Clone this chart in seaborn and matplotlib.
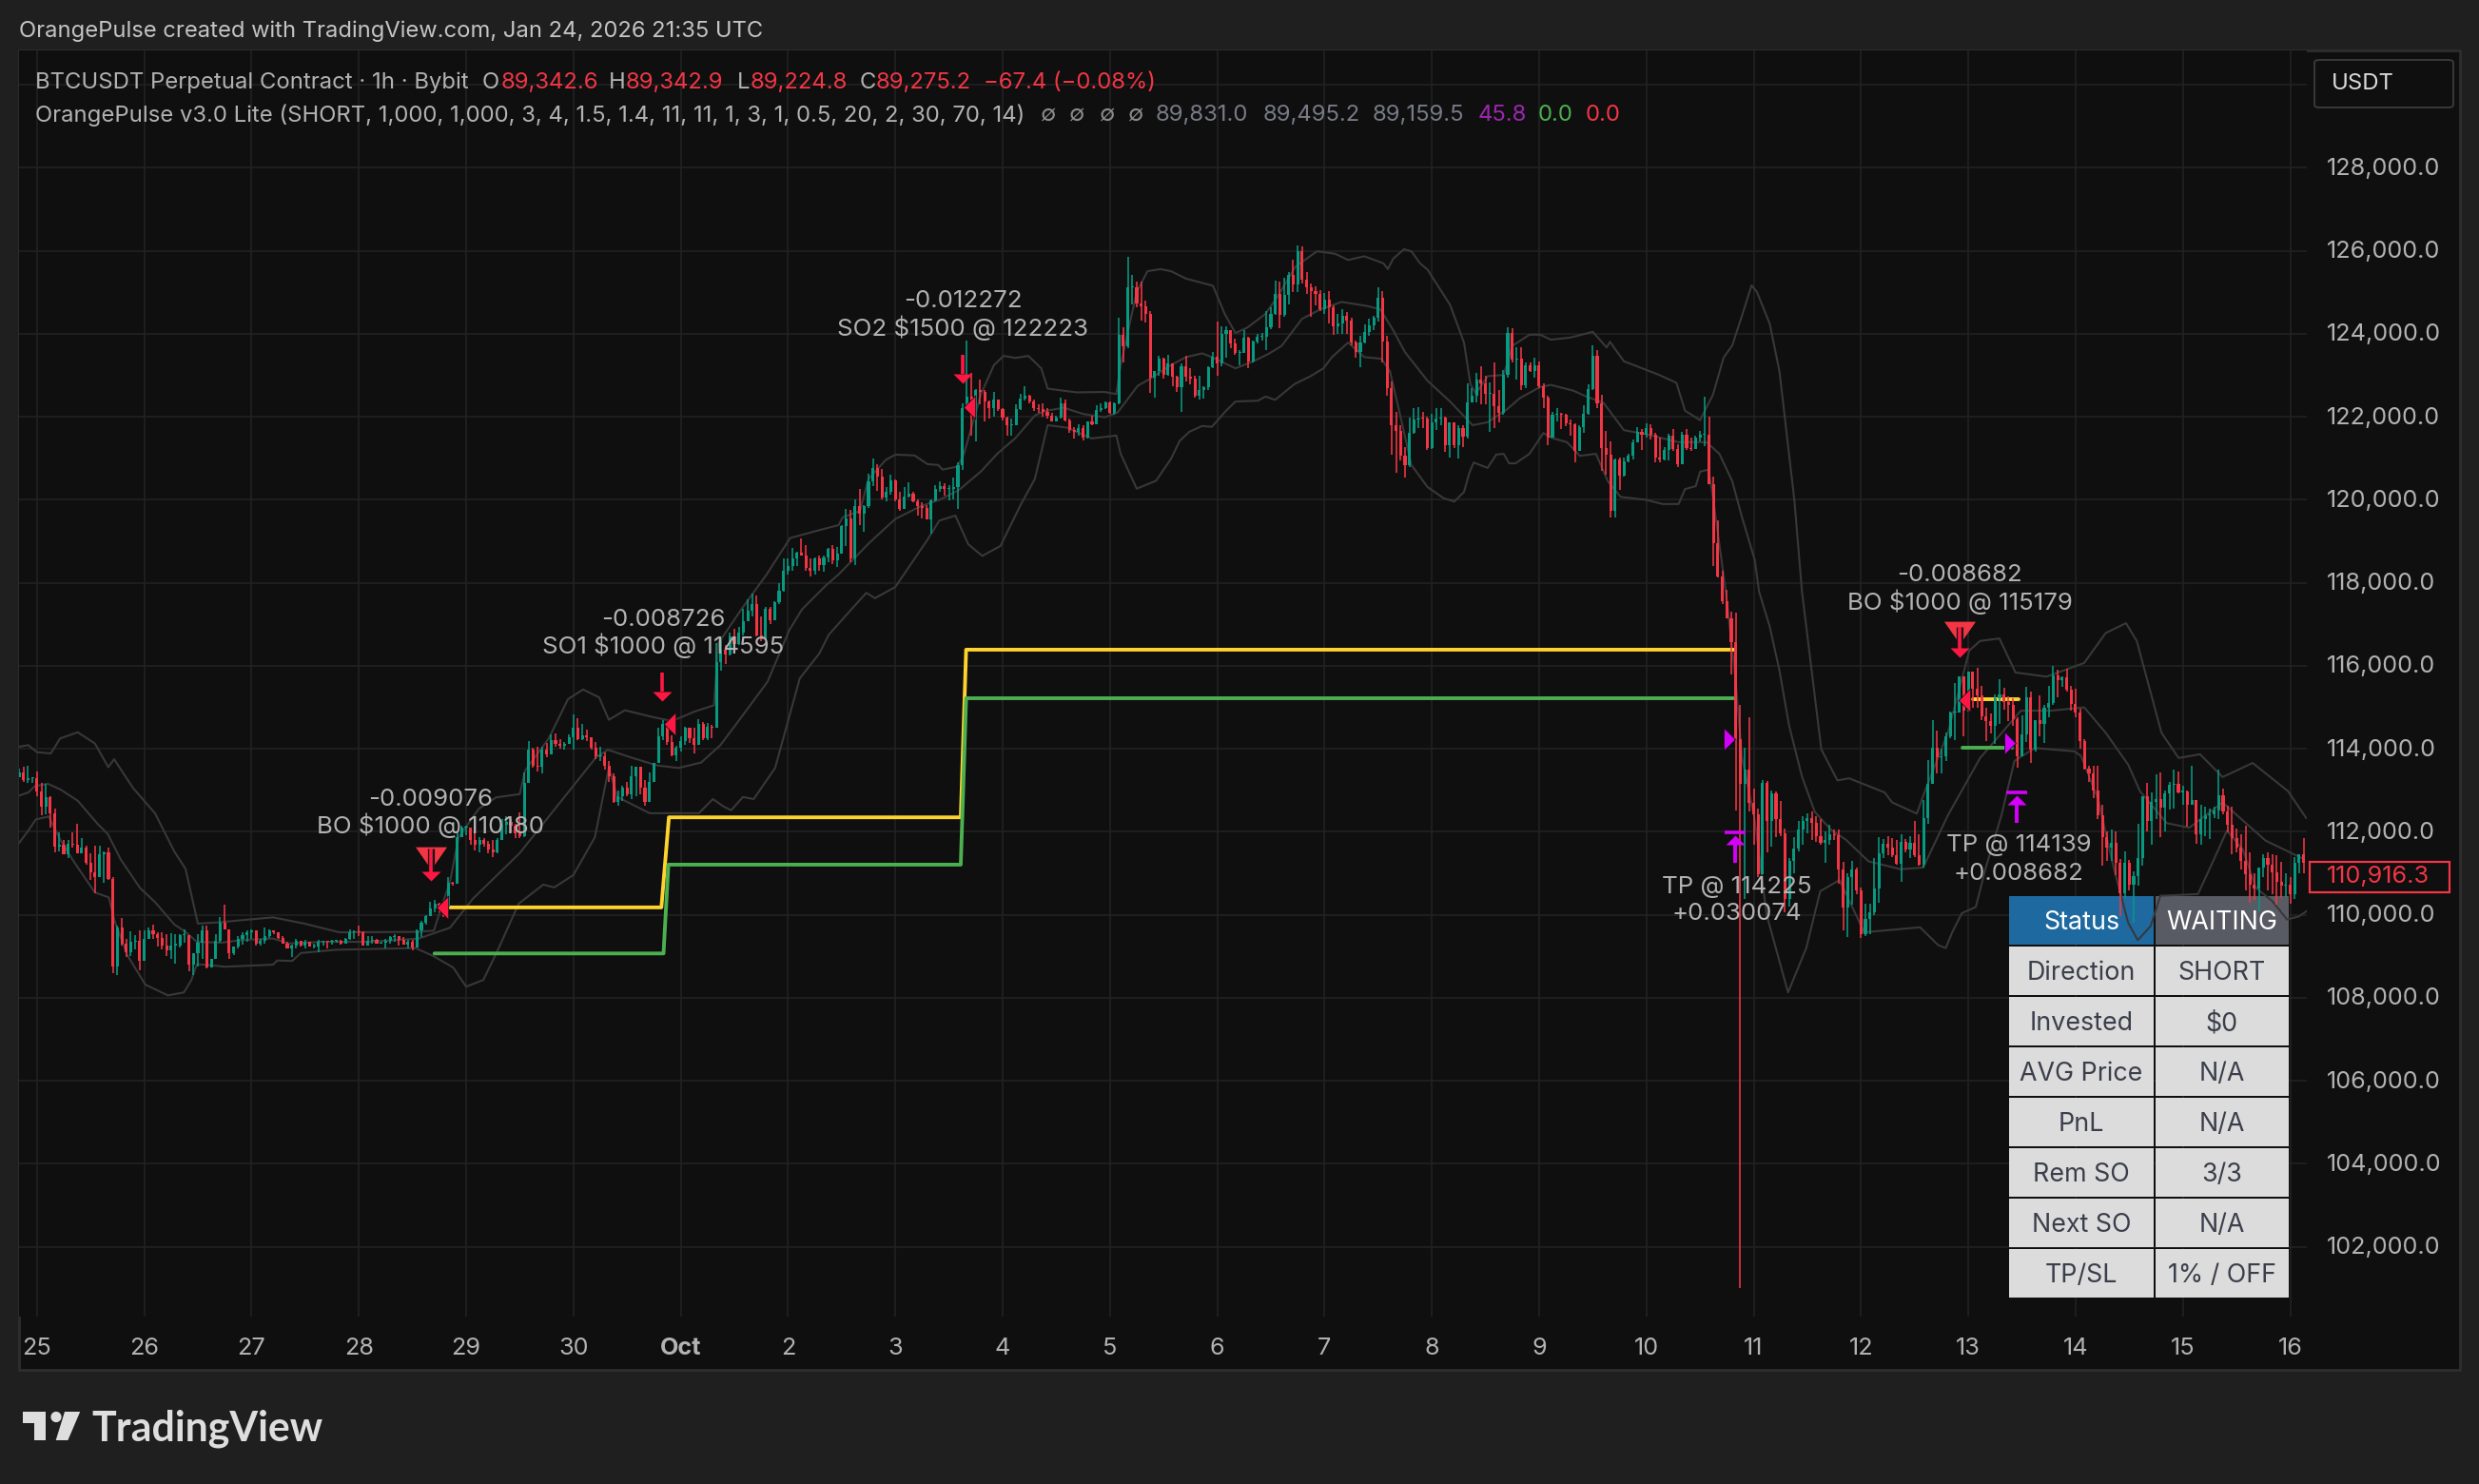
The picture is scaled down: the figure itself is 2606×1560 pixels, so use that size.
import numpy as np
import pandas as pd
import seaborn as sns
import matplotlib
matplotlib.use("Agg")
import matplotlib.pyplot as plt
from matplotlib.patches import Rectangle, Polygon, FancyBboxPatch
from matplotlib.path import Path
from matplotlib.transforms import ScaledTranslation

# hourly candles, first four hours belong to Sep 24, then one list per day
close_days = [
    [113440,113250,113290,113290],
    [112980,112600,112830,112450,111640,111680,111450,111720,111680,111490,111610,111260,111030,110900,111450,111510,110860,108750,109690,109300,109100,109350,109370,108890],
    [109430,109620,109530,109450,109270,109140,109270,109270,109520,109520,108810,109080,109330,109620,108740,108950,109370,109820,109660,109070,109240,109430,109520,109580],
    [109620,109310,109370,109490,109620,109580,109440,109310,109200,109270,109370,109250,109350,109240,109240,109350,109370,109350,109370,109370,109310,109430,109580,109590],
    [109580,109270,109370,109400,109310,109320,109370,109460,109480,109390,109290,109350,109210,109620,109810,109960,110150,110270,110200,110190,110770,110740,111870,112100],
    [112100,111800,111680,111800,111720,111570,111500,111800,112180,112250,112150,111970,111900,113170,113980,113600,113560,113980,113860,114210,114130,114070,114130,114280],
    [114510,114240,114320,114270,114020,113820,113830,113600,113330,112720,112870,113060,112910,113330,113560,113060,112730,113210,113650,114300,114590,114170,113840,114020],
    [114180,114510,114250,114090,114600,114250,114540,114510,116090,116400,116280,116700,116530,116800,117070,117330,117500,116730,116650,117380,117110,117530,117800,118300],
    [118400,118580,118720,118660,118350,118280,118580,118420,118620,118810,118550,118700,119370,119560,118580,119860,119660,119860,120440,120770,120570,120050,120190,120480],
    [120020,119770,120080,120150,119960,119850,119810,119540,119980,120270,120340,120270,120270,120300,120840,122220,122480,122000,122640,122600,122370,122220,122410,122180],
    [121990,121800,121800,122180,122450,122510,122370,122220,122180,122120,122030,121890,121980,122320,121910,121680,121630,121740,121490,121890,121820,122160,122220,122360],
    [122090,122330,123980,123700,125130,125130,124740,124660,124480,122950,123100,123400,123020,123290,122970,122720,123210,122970,122930,122520,122650,122720,123200,123440],
    [123290,123990,124090,123760,123540,123540,123900,123330,123810,123920,123940,124150,124490,124970,124460,124930,125410,125200,125990,125300,125120,125030,124960,124590],
    [124820,124630,124180,124240,124440,124320,123800,123570,123790,124040,124200,124380,124860,123810,122690,121800,121660,121070,120830,121610,121930,121960,121950,121250],
    [121870,121950,121990,121320,121860,121320,121740,121530,122350,122510,122910,122810,122560,122560,122260,122100,123010,124020,123380,123400,122750,123250,123110,123240],
    [122740,122460,121510,122040,122080,122040,121850,121820,121190,121760,122080,122680,123480,122320,121250,121080,119730,120970,120590,120920,121060,121390,121630,121580],
    [121730,121580,121020,120970,121200,121540,121220,120870,121560,121250,121220,121490,121560,121580,120380,118950,118150,117550,117150,116570,114230,113160,113490,112690],
    [112430,110990,113170,112260,112920,112310,111960,110390,111290,111590,112050,112270,112330,112210,111900,111730,111810,111950,111910,111100,110180,110910,111100,110580],
    [109530,109910,110060,110630,111480,111720,111620,111430,111240,111760,111570,111740,111430,111200,112330,113160,114030,113790,113830,114300,114880,114880,115740,114930],
    [115870,115450,115280,114780,114670,114550,115220,115320,115130,115050,114720,113830,114350,115240,113980,114690,114600,115000,115100,115760,115650,115720,115430,115090],
    [114880,114190,113530,113420,113000,112410,111870,111630,111740,111260,110510,111250,110730,110940,111360,112870,112270,112730,112790,112580,112930,113140,113150,112960],
    [112980,112660,112770,111950,112300,112390,112430,112510,112880,112490,112180,111840,111630,111300,110980,110730,110630,111130,111380,111200,111030,110790,110710,110730],
    [110500,111260,111450,111260,110916],
]
high_days = [
    [113520,113560,113590,113290],
    [113460,113170,113160,112850,112560,111990,111800,111810,111990,112200,111840,111660,111490,111660,111660,111530,111610,110900,109730,109920,109430,109600,109520,109620],
    [109620,109690,109760,109580,109580,109540,109560,109540,109540,109660,109500,109080,109540,109730,109730,108950,109540,109950,110240,109640,109240,109490,109580,109620],
    [109660,109600,109430,109690,109660,109620,109580,109500,109350,109290,109430,109380,109400,109350,109310,109390,109370,109370,109390,109390,109390,109440,109640,109620],
    [109730,109600,109490,109490,109410,109350,109430,109500,109540,109460,109460,109390,109390,109660,109850,110000,110310,110350,110300,110250,110900,110790,111990,112140],
    [112140,112040,112050,111870,111860,111780,111800,111850,112300,112380,112300,112200,112480,113440,114185,114030,114050,114050,114150,114360,114370,114230,114170,114350],
    [114830,114740,114600,114470,114290,114170,114040,113910,113700,113420,113000,113100,113210,113600,113570,113570,113250,113440,113660,114500,114700,114500,114320,114070],
    [114300,114530,114500,114500,114720,114650,114620,114570,116550,116650,116500,116800,116900,116950,117380,117610,117750,117700,117190,117420,117430,117560,118000,118600],
    [118600,118850,118750,119060,118900,118600,118620,118650,118650,118850,118900,118870,119400,119790,119750,120000,120270,119870,120640,121000,120860,120750,120300,120600],
    [120490,120200,120300,120420,120190,120000,119950,119870,120000,120350,120450,120410,120350,120530,120900,122330,123850,123070,122670,122900,122640,122400,122600,122420],
    [122200,122000,121960,122300,122560,122730,122530,122410,122300,122330,122210,122100,122030,122470,122410,121960,121760,121820,121790,121900,122030,122280,122330,122370],
    [122380,122350,124390,124150,125860,125420,125270,125250,124800,124550,123100,123480,123420,123500,123290,123000,123280,123480,123170,123000,123000,122740,123220,123570],
    [124300,124180,124180,124100,123880,123620,124080,123930,123850,124000,124030,124540,124650,125280,125270,125350,125480,125780,126140,126100,125500,125210,125140,125060],
    [124990,125040,124680,124480,124590,124520,124400,123850,123960,124220,124360,124440,125120,125020,123950,122850,122120,121800,121280,121990,122210,122240,122130,122000],
    [122070,122220,122210,122000,121870,121870,121800,121800,122800,122690,123050,123220,122990,122820,123300,122650,123130,124150,124140,123680,123670,123320,123300,123420],
    [123330,122810,122500,122130,122220,122100,122070,121930,121850,121800,122280,122780,123730,123620,122540,121650,121410,121000,121020,121030,121120,121450,121760,121700],
    [121840,121830,121620,121510,121280,121600,121700,121350,121630,121710,121500,121540,121650,122480,122000,120550,119500,118300,117830,117300,117280,115050,114020,114750],
    [113040,112550,113250,113220,113000,112970,112750,112090,111380,111880,112260,112380,112440,112500,112380,112300,112000,112170,112050,112060,111270,111000,111300,111130],
    [110660,110260,110260,111360,111880,111830,111890,111860,111800,111950,111820,111890,112270,111950,112760,113730,114690,114440,114000,114400,114900,115580,115740,115530],
    [115870,115700,115950,115510,114980,114850,115320,115680,115480,115270,115220,114770,114800,115500,115390,114700,115280,115050,115510,115990,115900,115750,115920,115510],
    [115450,114960,114240,113600,113590,113600,112660,112000,112060,112000,111340,111530,111330,111040,112200,112870,113190,112960,113390,113430,113000,113200,113500,113450],
    [113100,113000,113600,112770,112650,112600,112550,112600,113500,113040,112640,112600,112090,111940,112150,111500,111000,111150,111450,111510,111470,111430,111280,111000],
    [110920,111400,111470,111850,111300],
]
low_days = [
    [113310,113210,113170,113170],
    [112850,112390,112430,112100,111510,111530,111450,111380,111610,111490,111480,111210,110840,110520,110900,110780,110840,108600,108550,109270,108990,109000,109160,108660],
    [109410,109430,109430,109240,109160,109000,108930,108830,109210,109330,108640,108550,108750,108930,108700,108740,108930,109330,109660,108940,109040,109180,109290,109360],
    [109430,109270,109270,109310,109440,109540,109430,109300,109180,108980,109200,109240,109180,109230,109180,109100,109260,109200,109290,109330,109290,109310,109390,109410],
    [109500,109260,109260,109310,109300,109300,109180,109310,109350,109270,109290,109180,109140,109210,109460,109770,109960,110070,110070,109950,110080,110700,110770,111870],
    [111910,111700,111550,111500,111650,111490,111400,111490,111900,111950,111980,111850,111850,111870,113170,113550,113450,113420,113800,113860,114050,114000,113980,114140],
    [113980,114220,114200,114190,113980,113750,113700,113500,113200,112700,112620,112750,112870,112800,112850,112900,112620,112750,113210,113650,114200,114100,113820,113710],
    [113930,114100,114140,113900,114250,114200,114200,114250,114510,115880,116050,116250,116400,116500,116730,117130,117200,116700,116600,117100,117000,117150,117480,117780],
    [118200,118300,118400,118650,118280,118150,118210,118300,118270,118490,118450,118380,118700,118890,118500,118420,119400,119220,119800,120340,120210,120000,119970,120120],
    [119970,119730,119770,120050,119950,119630,119550,119530,119190,119960,120200,120100,119980,120000,119780,120730,122200,121550,121420,122300,121880,121960,122000,122150],
    [121920,121540,121540,121790,122170,122400,122320,122150,122100,122000,121960,121880,121880,121950,121900,121620,121470,121550,121430,121480,121800,121820,122120,122190],
    [122080,122050,122300,123320,123650,124700,124650,124330,124280,122580,122460,122990,122920,122990,122740,122590,122130,122860,122780,122470,122410,122430,122650,123180],
    [122990,123220,123430,123660,123500,123240,123530,123180,123320,123780,123850,123620,124120,124450,124140,124420,124700,125000,125000,125210,124960,124410,124680,124550],
    [124470,124250,123980,124000,124000,124000,123730,123430,123190,123770,123960,124100,124300,123310,122500,121090,120650,120940,120530,120800,121600,121730,121720,121200],
    [121230,121680,121800,121160,121020,121250,121000,121280,121480,122350,122350,122300,122300,121630,121720,121860,122040,122950,123300,122900,122640,122700,123080,122940],
    [122700,122210,121310,121540,121880,121700,121780,121540,120910,121190,121620,122060,122650,122200,120700,120600,119580,119580,120250,120570,120900,120980,121380,121200],
    [121500,121450,120900,120900,120940,120950,121170,120800,120860,121200,121180,121380,121420,121300,120370,118410,118130,117500,117140,115790,112520,101000,110390,112500],
    [111700,110900,110990,111500,111650,111880,111900,110060,110200,111000,111540,111700,111970,111800,111750,111700,111250,111700,111800,110750,109630,109460,110240,110500],
    [109440,109500,109530,110000,110300,111380,111440,111400,111200,110800,111500,111380,111400,111180,111140,112200,113440,113400,113400,113700,114250,114200,114880,114300],
    [114900,115000,115000,114700,114180,114380,114120,114600,114950,114680,114560,113540,113870,114170,113670,113940,114300,114150,114750,115060,115250,115500,115380,114930],
    [114770,114000,113500,113210,112820,112300,111190,111300,111300,110950,109960,110400,110600,109810,110700,111190,112000,111680,112300,111880,112020,112540,112560,112930],
    [112650,112130,112680,111720,111700,111900,111820,112320,112300,112430,111980,111460,111500,111100,110600,110300,110350,110080,110900,110600,110500,110250,110400,110430],
    [110270,110380,111000,111000,110700],
]
first_open = 113310

# bollinger-style envelope, read at irregular spots (days since Sep 25)
upper_days = [-.17,-.08,0,.13,.216,.38,.54,.665,.72,.895,1.1,1.28,1.385,1.5,1.695,1.9,2.2,2.49,2.82,3.54,3.7,3.76,3.85,3.93,4.12,4.28,4.5,4.55,4.77,4.95,5.09,5.24,5.33,5.48,5.75,5.92,6.13,6.31,6.35,6.57,6.8,7.02,7.29,7.47,7.51,7.67,7.75,7.91,8,8.18,8.3,8.4,8.44,8.58,8.64,8.8,8.92,9.01,9.12,9.24,9.36,9.42,9.69,9.95,10.06,10.1,10.25,10.35,10.47,10.57,10.71,10.96,11.07,11.17,11.28,11.45,11.57,11.73,11.93,12.1,12.22,12.37,12.55,12.59,12.64,12.74,12.81,12.89,12.96,13.17,13.3,13.36,13.41,13.52,13.67,13.75,13.91,14.01,14.11,14.29,14.5,14.63,14.66,14.79,15.12,15.28,15.36,15.5,15.62,15.72,15.8,15.89,15.98,16.03,16.15,16.24,16.38,16.45,16.63,16.78,16.89,17.22,17.29,17.52,17.6,17.81,18.01,18.11,18.29,18.44,18.73,19.08,19.28,19.47,19.57,19.8,19.96,20.16,20.37,20.65,20.98,21.15]
upper_vals = [114050,114090,113920,113890,114250,114400,114130,113560,113750,113060,112450,111530,111110,109790,109820,109870,109940,109790,109580,109590,109620,110110,110800,111870,112560,112830,112910,113480,114250,115200,115430,115240,114700,114930,114760,114670,114900,115050,116540,117380,118200,119080,119270,119390,119580,119730,120500,120960,121090,121070,120860,120840,120730,120800,121110,122560,123250,123470,123420,123470,123170,122680,122590,122600,122550,123250,125010,125510,125560,125510,125330,125160,124480,124020,124150,124480,124930,125620,125990,125930,125780,125870,125700,125560,125810,126040,125990,125700,125550,124700,123790,122790,122560,122980,123010,123710,123980,123980,123860,123910,124050,123670,123810,123340,123010,122820,122150,121920,122530,123430,123720,124430,125170,125010,124240,123100,119970,117790,113990,113240,113290,112950,112710,112440,113010,114390,116370,116600,116660,115840,115740,116070,116790,117030,116600,114390,113780,113870,113320,113660,112980,112330]
middle_days = [-.17,-.08,-.02,.1,.22,.38,.57,.66,.78,.96,1.1,1.28,1.39,1.49,1.72,1.9,2.2,2.35,2.64,3.09,3.56,3.85,4.06,4.5,4.95,5.21,5.32,5.54,5.78,5.98,6.19,6.37,6.57,6.81,7.01,7.13,7.35,7.47,7.76,8,8.24,8.41,8.59,8.8,8.95,9.12,9.3,9.39,9.57,9.75,9.95,10.07,10.26,10.37,10.57,10.71,10.86,10.95,11.17,11.33,11.48,11.6,11.79,11.96,12.16,12.4,12.52,12.64,12.75,12.96,13.17,13.38,13.52,13.7,13.82,14.01,14.11,14.32,14.44,14.6,14.79,15,15.3,15.56,15.68,15.8,15.89,16.01,16.05,16.15,16.24,16.33,16.45,16.57,16.72,16.86,17.07,17.37,17.58,17.81,18.11,18.49,18.77,19.08,19.28,19.49,19.6,19.85,20.06,20.37,20.77,21.13]
middle_vals = [112870,112950,113100,113160,113020,112750,112180,111950,111340,110650,110310,109770,109580,109350,109330,109390,109430,109310,109350,109350,109430,109690,110380,111490,112950,113790,113980,113790,113600,113540,113670,114090,114780,115620,116850,117360,117930,118200,118970,119540,119850,120000,120230,120690,121110,121490,122030,122140,122220,122070,121990,122100,122750,122910,123250,123440,123530,123440,123170,123330,123520,123710,124360,124590,124770,124670,124590,124090,123560,122870,122370,121800,121870,122180,122450,122720,122770,122630,122490,122340,121680,121580,121390,121390,121110,120450,119590,118550,117790,116940,115890,114560,113330,112480,112050,111810,111290,111100,111140,112400,113780,114920,114920,115000,114390,113620,112980,112210,112100,112710,111790,111340]
lower_days = [-.17,-.08,-.01,.11,.22,.35,.54,.67,.72,.84,1.01,1.22,1.37,1.44,1.49,1.61,1.75,2.2,2.24,2.38,2.46,2.79,3.53,3.7,3.88,4,4.16,4.29,4.49,4.72,4.82,5,5.2,5.33,5.41,5.71,6.17,6.3,6.4,6.47,6.58,6.68,6.88,7.11,7.29,7.38,7.59,7.73,7.81,8,8.3,8.41,8.56,8.68,8.81,8.98,9.17,9.3,9.42,9.6,9.83,10.06,10.1,10.25,10.43,10.57,10.65,10.74,10.86,10.95,11.08,11.17,11.38,11.45,11.54,11.72,11.87,11.99,12.07,12.22,12.37,12.53,12.61,12.7,12.81,12.96,13.11,13.21,13.3,13.35,13.39,13.52,13.6,13.67,13.72,13.78,13.91,14.04,14.12,14.26,14.38,14.53,14.64,14.76,15,15.15,15.3,15.36,15.46,15.5,15.58,15.62,15.68,15.74,15.83,15.89,16.01,16.12,16.32,16.49,16.62,16.8,17.03,17.55,17.72,17.79,17.85,17.94,18.07,18.16,18.31,18.43,18.62,18.99,19.05,19.21,19.35,19.49,19.58,19.7,19.79,20.14,20.29,20.41,20.56,20.68,20.83,20.97,21.08,21.21]
lower_vals = [111720,112030,112300,112370,111800,111260,110540,110420,109890,109040,108320,108060,108130,108430,108810,108790,108750,108800,108900,108890,109080,109160,109200,109000,108730,108270,108430,109120,110270,110730,110660,110960,111870,113540,112840,112450,112450,112790,112610,112520,112840,112790,113540,115700,116290,116750,117360,117760,117630,117900,119040,119500,119620,118930,118650,118890,119890,120500,121800,121740,121480,121550,121110,120270,120460,120990,121420,121640,121780,121760,122140,122370,122390,122490,122410,122790,122980,123170,123440,123790,123440,123400,123100,122100,120840,120310,120040,119960,120190,120650,120900,120770,121090,121110,120880,120880,121110,121610,121490,121390,121060,121110,120450,120070,120000,119900,119900,120260,120330,120680,120730,120070,118930,117790,115700,113800,112290,110010,108130,109200,110570,110840,109580,109700,109270,109200,109580,110040,110190,111110,112410,113710,114020,113940,113830,112790,111190,109810,109390,109730,110460,110500,111340,112030,111570,110650,110340,109890,109960,110190]

# position lines of the strategy
tp_days = [3.80,5.82,5.89,8.61,8.66,15.81]
tp_vals = [110180,110180,112350,112350,116390,116390]
avg_days = [3.705,5.84,5.885,8.61,8.66,15.81]
avg_vals = [109070,109070,111210,111210,115220,115220]
tp2_days = [18.04,18.47]
tp2_vals = [115190,115190]
avg2_days = [17.95,18.41]
avg2_vals = [114030,114030]

# signals
entry_days = [3.78,5.90,8.69,17.96]
entry_vals = [110180,114595,122223,115179]
exit_days = [15.77,18.39]
exit_vals = [114225,114139]
bo_days = [3.67,17.92]
bo_vals = [111380,116800]
arrow_days = [3.67,5.83,8.625,17.92]
arrow_vals = [110930,115260,122920,116320]
arrow_tops = [111600,115840,123495,116950]
arrow_bottoms = [111025,115380,123040,116410]
up_days = [15.83,18.45]
up_bar_vals = [111990,112960]
up_head_vals = [111800,112770]
up_shaft_tops = [111700,112670]
up_shaft_bottoms = [111250,112220]

label_days = [3.67,5.84,8.63,17.92,15.84,18.47]
label_top_vals = [112770,117100,124780,118180,110660,111670]
label_low_vals = [112150,116480,124140,117530,110020,111000]
label_top_txt = ["-0.009076","-0.008726","-0.012272","-0.008682","TP @ 114225","TP @ 114139"]
label_low_txt = ["BO $1000 @ 110180","SO1 $1000 @ 114595","SO2 $1500 @ 122223","BO $1000 @ 115179","+0.030074","+0.008682"]

day_ticks = list(range(0,22))
day_labels = ["25","26","27","28","29","30","Oct","2","3","4","5","6","7","8","9","10","11","12","13","14","15","16"]
price_ticks = list(range(102000,130001,2000))

table_left = ["Status","Direction","Invested","AVG Price","PnL","Rem SO","Next SO","TP/SL"]
table_right = ["WAITING","SHORT","$0","N/A","N/A","3/3","N/A","1% / OFF"]

W, H = 2606, 1560
BG = "#1F1F1F"
PANE = "#0F0F0F"
GRID = "#222222"
TXT = "#B2B2B2"
UP = "#089981"
DOWN = "#F23645"
MARK = "#FF1744"
MAGENTA = "#D500F9"
BAND = "#383838"

sns.set_theme(style="darkgrid", rc={
    "axes.facecolor": PANE,
    "figure.facecolor": BG,
    "grid.color": GRID,
    "grid.linewidth": 1.2,
    "axes.edgecolor": PANE,
})
plt.rcParams["font.family"] = ["Inter", "DejaVu Sans"]


def fx(x):
    return x / W


def fy(y):
    return 1 - y / H


def ptxt(x, y, s, color=TXT, size=17.2, ha="left", **kw):
    fig.text(fx(x), fy(y), s, color=color, fontsize=size, ha=ha, va="center", **kw)


def frect(ax_or_fig, x0, y0, x1, y1, **kw):
    r = Rectangle((fx(x0), fy(y1)), fx(x1 - x0), (y1 - y0) / H, transform=fig.transFigure, **kw)
    if ax_or_fig is fig:
        fig.add_artist(r)
    else:
        r.set_clip_on(False)
        ax_or_fig.add_patch(r)
    return r


def tri(points):
    return Path(points + [points[0]], closed=True)


def msize(px):
    return (px * 0.72) ** 2


fig = plt.figure(figsize=(W / 100, H / 100), dpi=100)
frect(fig, 20, 53, 2586, 1440, facecolor=PANE, edgecolor="#2E2E2E", linewidth=2, zorder=-1)

ax = fig.add_axes([fx(20), fy(1384), fx(2405), (1384 - 53) / H])
ax.set_xlim(-0.1667, 21.155)
ax.set_ylim(100320, 130830)
ax.grid(True)
ax.set_axisbelow(True)

# candles
closes = np.concatenate(close_days)
highs = np.concatenate(high_days)
lows = np.concatenate(low_days)
assert len(closes) == len(highs) == len(lows)
opens = np.r_[first_open, closes[:-1]]
hours = (np.arange(len(closes)) - 4) / 24
candles = pd.DataFrame({"day": hours, "o": opens, "c": closes, "h": highs, "l": lows})
candles["h"] = candles[["o", "c", "h"]].max(axis=1)
candles["l"] = candles[["o", "c", "l"]].min(axis=1)
candles["rising"] = candles.c >= candles.o
colors = np.where(candles.rising, UP, DOWN)
body_h = np.maximum((candles.c - candles.o).abs(), 25)
ax.vlines(candles.day, candles.l, candles.h, colors=colors, linewidth=1.15, zorder=3)
ax.bar(candles.day, body_h, bottom=candles[["o", "c"]].min(axis=1), width=0.0275,
       color=colors, linewidth=0, zorder=3.1)

# envelope
for xs, ys in [(upper_days, upper_vals), (middle_days, middle_vals), (lower_days, lower_vals)]:
    sns.lineplot(x=xs, y=ys, ax=ax, color=BAND, linewidth=1.5, sort=False, estimator=None, zorder=2)

# strategy lines
for xs, ys, col in [(tp_days, tp_vals, "#FFD32E"), (tp2_days, tp2_vals, "#FFD32E"),
                    (avg_days, avg_vals, "#4CAF50"), (avg2_days, avg2_vals, "#4CAF50")]:
    sns.lineplot(x=xs, y=ys, ax=ax, color=col, linewidth=2.8, sort=False, estimator=None, zorder=2.5)

# markers
sns.scatterplot(x=bo_days, y=bo_vals, ax=ax, color="#F23645", s=msize(33), linewidth=0, zorder=4,
                marker=tri([(-1, .72), (1, .72), (0, -.72)]))
ax.vlines(bo_days, [a + 60 for a in arrow_bottoms[0:1] + arrow_bottoms[3:]],
          [a for a in arrow_tops[0:1] + arrow_tops[3:]], colors="#151515", linewidth=5.2, zorder=4.1)
ax.vlines(arrow_days, arrow_bottoms, arrow_tops, colors=MARK, linewidth=2.6, zorder=4.2)
sns.scatterplot(x=arrow_days, y=arrow_vals, ax=ax, color=MARK, s=msize(20), linewidth=0, zorder=4.3,
                marker=tri([(-1, .5), (1, .5), (0, -.5)]))
sns.scatterplot(x=entry_days, y=entry_vals, ax=ax, color=MARK, s=msize(25), linewidth=0.6,
                edgecolor="#101010", zorder=4.4, marker=tri([(.5, 1), (-.5, 0), (.5, -1)]))
sns.scatterplot(x=exit_days, y=exit_vals, ax=ax, color=MAGENTA, s=msize(24), linewidth=0.6,
                edgecolor="#101010", zorder=4.4, marker=tri([(-.5, 1), (.5, 0), (-.5, -1)]))
ax.hlines(up_bar_vals, [d - 0.097 for d in up_days], [d + 0.097 for d in up_days],
          colors=MAGENTA, linewidth=2.6, zorder=4.2)
ax.vlines(up_days, up_shaft_bottoms, up_shaft_tops, colors=MAGENTA, linewidth=2.8, zorder=4.2)
sns.scatterplot(x=up_days, y=up_head_vals, ax=ax, color=MAGENTA, s=msize(20), linewidth=0, zorder=4.3,
                marker=tri([(-1, -.5), (1, -.5), (0, .5)]))

# trade labels
for d, v1, v2, s1, s2 in zip(label_days, label_top_vals, label_low_vals, label_top_txt, label_low_txt):
    ax.text(d, v1, s1, color=TXT, fontsize=18.6, ha="center", va="center", zorder=5)
    ax.text(d, v2, s2, color=TXT, fontsize=18.6, ha="center", va="center", zorder=5)

# axes
ax.set_xticks(day_ticks, day_labels)
ax.set_yticks(price_ticks, [f"{p:,.1f}" if p < 130000 else "" for p in price_ticks])
ax.yaxis.tick_right()
ax.tick_params(axis="y", length=0, pad=15, labelsize=18.2, labelcolor=TXT)
ax.tick_params(axis="x", length=0, pad=15.5, labelsize=18.2, labelcolor=TXT)
ax.get_xticklabels()[6].set_fontweight("bold")
for lbl in ax.get_yticklabels():
    lbl.set_transform(lbl.get_transform() + ScaledTranslation(0, 1.5 / 100, fig.dpi_scale_trans))
ax.set_xlabel("")
ax.set_ylabel("")
sns.despine(ax=ax, left=True, bottom=True, right=True, top=True)

# last price tag
frect(ax, 2428, 906, 2575, 938, facecolor=PANE, edgecolor=DOWN, linewidth=1.6, zorder=6)
ax.text(1 + 21 / 2405, closes[-1], f"{110916.3:,.1f}", transform=ax.get_yaxis_transform(),
        color=DOWN, fontsize=18.2, ha="left", va="center", zorder=7)

# status table
row_tops = [942, 995, 1048, 1101, 1154, 1207, 1260, 1313]
for i, (a, b) in enumerate(zip(table_left, table_right)):
    y0 = row_tops[i]
    y1 = y0 + 51
    if i == 0:
        frect(ax, 2112, y0, 2264, y1, facecolor="#1E6AA0", linewidth=0, zorder=1.5)
        frect(ax, 2266, y0, 2406, y1, facecolor="#585B63", linewidth=0, zorder=1.5)
        col = "#FFFFFF"
    else:
        frect(ax, 2112, y0, 2264, y1, facecolor="#DCDCDC", linewidth=0, zorder=6)
        frect(ax, 2266, y0, 2406, y1, facecolor="#DCDCDC", linewidth=0, zorder=6)
        col = "#3B3E4B"
    fig.text(fx(2188), fy(y0 + 28), a, color=col, fontsize=19.3, ha="center", va="center", zorder=8)
    fig.text(fx(2336), fy(y0 + 28), b, color=col, fontsize=19.3, ha="center", va="center", zorder=8)

# header and legend
ptxt(20, 33, "OrangePulse created with TradingView.com, Jan 24, 2026 21:35 UTC", color="#C4C4C4", size=17.1)
ptxt(37, 87, "BTCUSDT Perpetual Contract · 1h · Bybit")
for x, s in [(507, "O"), (640, "H"), (775, "L"), (904, "C")]:
    ptxt(x, 87, s)
for x, s in [(527, "89,342.6"), (658, "89,342.9"), (789, "89,224.8"), (921, "89,275.2"), (1034, "−67.4 (−0.08%)")]:
    ptxt(x, 87, s, color=DOWN)
ptxt(37, 121, "OrangePulse v3.0 Lite (SHORT, 1,000, 1,000, 3, 4, 1.5, 1.4, 11, 11, 1, 3, 1, 0.5, 20, 2, 30, 70, 14)")
for x in [1094, 1124, 1156, 1186]:
    ptxt(x, 121, "∅", color="#8A8A8A")
for x, s, c in [(1215, "89,831.0", "#787B86"), (1328, "89,495.2", "#787B86"), (1443, "89,159.5", "#787B86"),
                (1554, "45.8", "#9C27B0"), (1617, "0.0", "#4CAF50"), (1667, "0.0", DOWN)]:
    ptxt(x, 121, s, color=c)

# USDT button
fig.add_artist(FancyBboxPatch((fx(2433), fy(113)), fx(146), 50 / H, boxstyle="round,pad=0,rounding_size=0.002",
                              transform=fig.transFigure, facecolor=PANE, edgecolor="#3A3A3A", linewidth=1.4))
ptxt(2484, 88, "USDT", color="#DADADA", size=17.2, ha="center")

# logo
logo = "#DEDEDE"
fig.add_artist(Polygon([(fx(a), fy(b)) for a, b in [(24, 1484), (47.5, 1484), (47.5, 1514), (36, 1514), (36, 1496), (24, 1496)]],
                       transform=fig.transFigure, facecolor=logo, linewidth=0))
fig.add_artist(Polygon([(fx(a), fy(b)) for a, b in [(68, 1484), (84.2, 1484), (71.4, 1514), (58.7, 1514)]],
                       transform=fig.transFigure, facecolor=logo, linewidth=0))
fig.add_artist(Polygon([(fx(59 + 5.6 * np.cos(t)), fy(1489.5 + 5.6 * np.sin(t))) for t in np.linspace(0, 2 * np.pi, 40)],
                       transform=fig.transFigure, facecolor=logo, linewidth=0))
ptxt(96, 1502, "TradingView", color=logo, size=30.9, family=["Lato", "DejaVu Sans"], fontweight="bold")

fig.savefig("out.png", dpi=100, facecolor=BG)
